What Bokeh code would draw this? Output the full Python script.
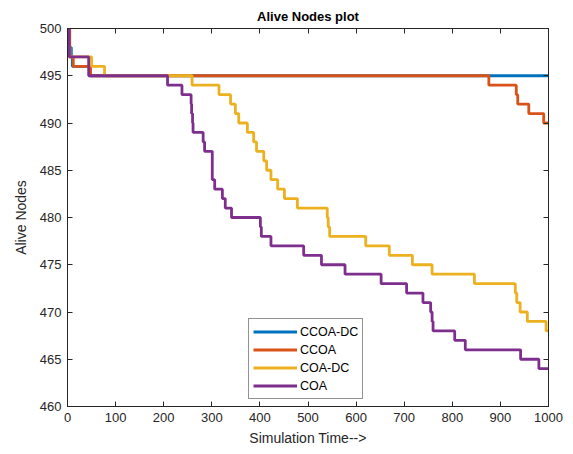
from bokeh.plotting import figure
from bokeh.models import LinearAxis, Legend, LegendItem, Range1d, FixedTicker
from bokeh.embed import file_html
from bokeh.resources import INLINE

# ---- data ----
ccoa_dc_t = [0, 3, 8, 10, 46, 1000]
ccoa_dc_v = [500, 498, 497, 496, 495, 495]

ccoa_t = [0, 3, 12, 48, 876, 933, 936, 959, 990, 1000]
ccoa_v = [500, 497, 496, 495, 494, 493, 492, 491, 490, 490]

coa_dc_t = [0, 5, 50, 77, 259, 315, 339, 349, 356, 374, 387, 393, 408, 414, 423, 437,
            451, 478, 540, 542, 545, 620, 669, 717, 758, 846, 931, 934, 941, 956, 995, 1000]
coa_dc_v = [500, 497, 496, 495, 494, 493, 492, 491, 490, 489, 488, 487, 486, 485, 484, 483,
            482, 481, 480, 479, 478, 477, 476, 475, 474, 473, 472, 471, 470, 469, 468, 468]

coa_t = [0, 4, 44, 208, 238, 257, 258, 260, 261, 282, 285, 301, 306, 322, 328, 341, 401, 403,
         423, 491, 528, 577, 652, 705, 739, 755, 758, 760, 805, 827, 942, 980, 1000]
coa_v = [500, 497, 495, 494, 493, 492, 491, 490, 489, 488, 487, 484, 483, 482, 481, 480, 479, 478,
         477, 476, 475, 474, 473, 472, 471, 470, 469, 468, 467, 466, 465, 464, 464]

series_names = ["CCOA-DC", "CCOA", "COA-DC", "COA"]
series_colors = ["#0072BD", "#D95319", "#EDB120", "#7E2F8E"]
x_ticks = list(range(0, 1001, 100))
y_ticks = list(range(460, 501, 5))

FONT = "Liberation Sans"
TXT = "#262626"

p = figure(width=573, height=454, output_backend="svg", toolbar_location=None,
           x_range=Range1d(0, 1000), y_range=Range1d(460, 500),
           min_border_left=67, min_border_right=25, min_border_top=28, min_border_bottom=48)

p.title.text = "Alive Nodes plot"
p.title.align = "center"
p.title.text_font = FONT
p.title.text_font_size = "13px"
p.title.text_font_style = "bold"
p.title.text_color = "#000000"

p.xgrid.visible = False
p.ygrid.visible = False
p.outline_line_color = TXT
p.outline_line_width = 1
p.background_fill_color = "white"
p.border_fill_color = "white"

for ax, ticks in ((p.xaxis[0], x_ticks), (p.yaxis[0], y_ticks)):
    ax.ticker = FixedTicker(ticks=ticks)
    ax.major_tick_in = 5
    ax.major_tick_out = 0
    ax.minor_tick_in = 0
    ax.minor_tick_out = 0
    ax.axis_line_color = TXT
    ax.major_tick_line_color = TXT
    ax.major_label_text_font = FONT
    ax.major_label_text_font_size = "13px"
    ax.major_label_text_color = TXT
    ax.axis_label_text_font = FONT
    ax.axis_label_text_font_size = "14px"
    ax.axis_label_text_font_style = "normal"
    ax.axis_label_text_color = TXT

p.xaxis.axis_label = "Simulation Time-->"
p.yaxis.axis_label = "Alive Nodes"
p.xaxis.major_label_standoff = 6
p.yaxis.major_label_standoff = 6
p.xaxis.axis_label_standoff = 5
p.yaxis.axis_label_standoff = 8

for loc, ticks in (("right", y_ticks), ("above", x_ticks)):
    ax = LinearAxis(ticker=FixedTicker(ticks=ticks))
    ax.major_tick_in = 5
    ax.major_tick_out = 0
    ax.minor_tick_in = 0
    ax.minor_tick_out = 0
    ax.axis_line_color = TXT
    ax.major_tick_line_color = TXT
    ax.major_label_overrides = {t: "" for t in ticks}
    ax.major_label_standoff = 0
    p.add_layout(ax, loc)

all_t = [ccoa_dc_t, ccoa_t, coa_dc_t, coa_t]
all_v = [ccoa_dc_v, ccoa_v, coa_dc_v, coa_v]
items = []
for name, col, t, v in zip(series_names, series_colors, all_t, all_v):
    r = p.step(t, v, mode="after", line_color=col, line_width=2.8)
    items.append(LegendItem(label=name, renderers=[r]))

leg = Legend(items=items, location=(181, 7))
leg.border_line_color = TXT
leg.border_line_width = 1
leg.background_fill_color = "white"
leg.background_fill_alpha = 1
leg.label_text_font = FONT
leg.label_text_font_size = "12.5px"
leg.label_text_color = "#000000"
leg.glyph_width = 44
leg.glyph_height = 17
leg.label_height = 17
leg.label_standoff = 3
leg.spacing = 1
leg.padding = 4
leg.margin = 0
p.add_layout(leg, "center")

open("out.html", "w").write(file_html(p, INLINE))
